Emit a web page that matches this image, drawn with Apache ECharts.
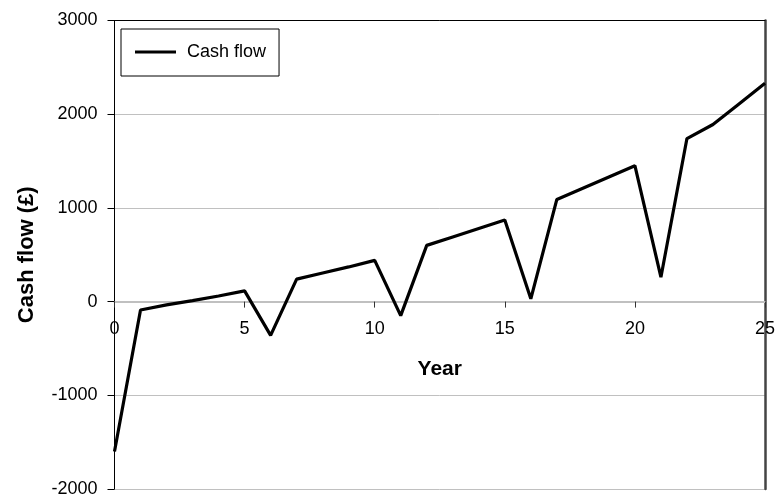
<!DOCTYPE html>
<html>
<head>
<meta charset="utf-8">
<script src="https://cdn.jsdelivr.net/npm/echarts@6/dist/echarts.min.js"></script>
<style>html,body{margin:0;padding:0;background:#fff}#c{width:776px;height:497px}</style>
</head>
<body>
<div id="c"></div>
<script>
var years = [0,1,2,3,4,5,6,7,8,9,10,11,12,13,14,15,16,17,18,19,20,21,22,23,24,25];
var cashFlow = [-1600,-90,-35,10,60,115,-360,240,305,370,440,-150,600,690,780,870,30,1090,1210,1330,1450,260,1740,1890,2110,2330];
var seriesName = 'Cash flow';
var xTitle = 'Year';
var yTitle = 'Cash flow (£)';

var font = 'Liberation Sans, Arial, sans-serif';
var gridTop = 20.5, gridBottom = 8, H = 497;
var yMin = -2000, yMax = 3000;
var plotH = H - gridTop - gridBottom;
var zeroOffset = -(plotH * (0 - yMin) / (yMax - yMin));

var chart = echarts.init(document.getElementById('c'), null, {renderer: 'canvas'});
chart.setOption({
  animation: false,
  backgroundColor: '#fff',
  textStyle: {fontFamily: font},
  grid: {left: 114.5, right: 11, top: gridTop, bottom: gridBottom, containLabel: false, outerBoundsMode: 'none'},
  legend: {
    left: 121, top: 29,
    padding: [14, 13, 15, 14],
    backgroundColor: '#fff',
    borderColor: '#000', borderWidth: 1,
    icon: 'rect', itemWidth: 41, itemHeight: 3,
    textStyle: {fontFamily: font, fontSize: 18, color: '#000', padding: [0, 0, 0, 6]},
    data: [seriesName]
  },
  xAxis: [{
    type: 'value', min: 0, max: 25, interval: 5,
    position: 'bottom', offset: zeroOffset,
    name: xTitle, nameLocation: 'middle', nameGap: 57,
    nameTextStyle: {fontFamily: font, fontSize: 21, fontWeight: 'bold', color: '#000'},
    axisLine: {show: true, onZero: false, lineStyle: {color: '#c0c0c0', width: 2}},
    axisTick: {show: true, length: 6, lineStyle: {color: '#333'}},
    axisLabel: {fontFamily: font, fontSize: 18, color: '#000', margin: 18, formatter: function (v) { return String(v); }},
    splitLine: {show: false}
  }, {
    type: 'value', min: 0, max: 25, position: 'top',
    axisLine: {show: true, onZero: false, lineStyle: {color: '#000', width: 1}},
    axisTick: {show: false}, axisLabel: {show: false}, splitLine: {show: false}
  }],
  yAxis: [{
    type: 'value', min: yMin, max: yMax, interval: 1000,
    name: yTitle, nameLocation: 'middle', nameGap: 77,
    nameTextStyle: {fontFamily: font, fontSize: 22, fontWeight: 'bold', color: '#000'},
    axisLine: {show: true, onZero: false, lineStyle: {color: '#000', width: 1}},
    axisTick: {show: true, length: 7, lineStyle: {color: '#000'}},
    axisLabel: {fontFamily: font, fontSize: 18, color: '#000', margin: 17, formatter: function (v) { return String(v); }},
    splitLine: {show: true, lineStyle: {color: '#c0c0c0', width: 1}}
  }, {
    type: 'value', min: yMin, max: yMax, position: 'right',
    axisLine: {show: true, onZero: false, lineStyle: {color: '#444', width: 2.5}},
    axisTick: {show: false}, axisLabel: {show: false}, splitLine: {show: false}
  }],
  series: [{
    name: seriesName, type: 'line', xAxisIndex: 0, yAxisIndex: 0,
    data: years.map(function (y, i) { return [y, cashFlow[i]]; }),
    symbol: 'none', lineStyle: {color: '#000', width: 3.2}, itemStyle: {color: '#000'},
    z: 5
  }]
});
</script>
</body>
</html>
